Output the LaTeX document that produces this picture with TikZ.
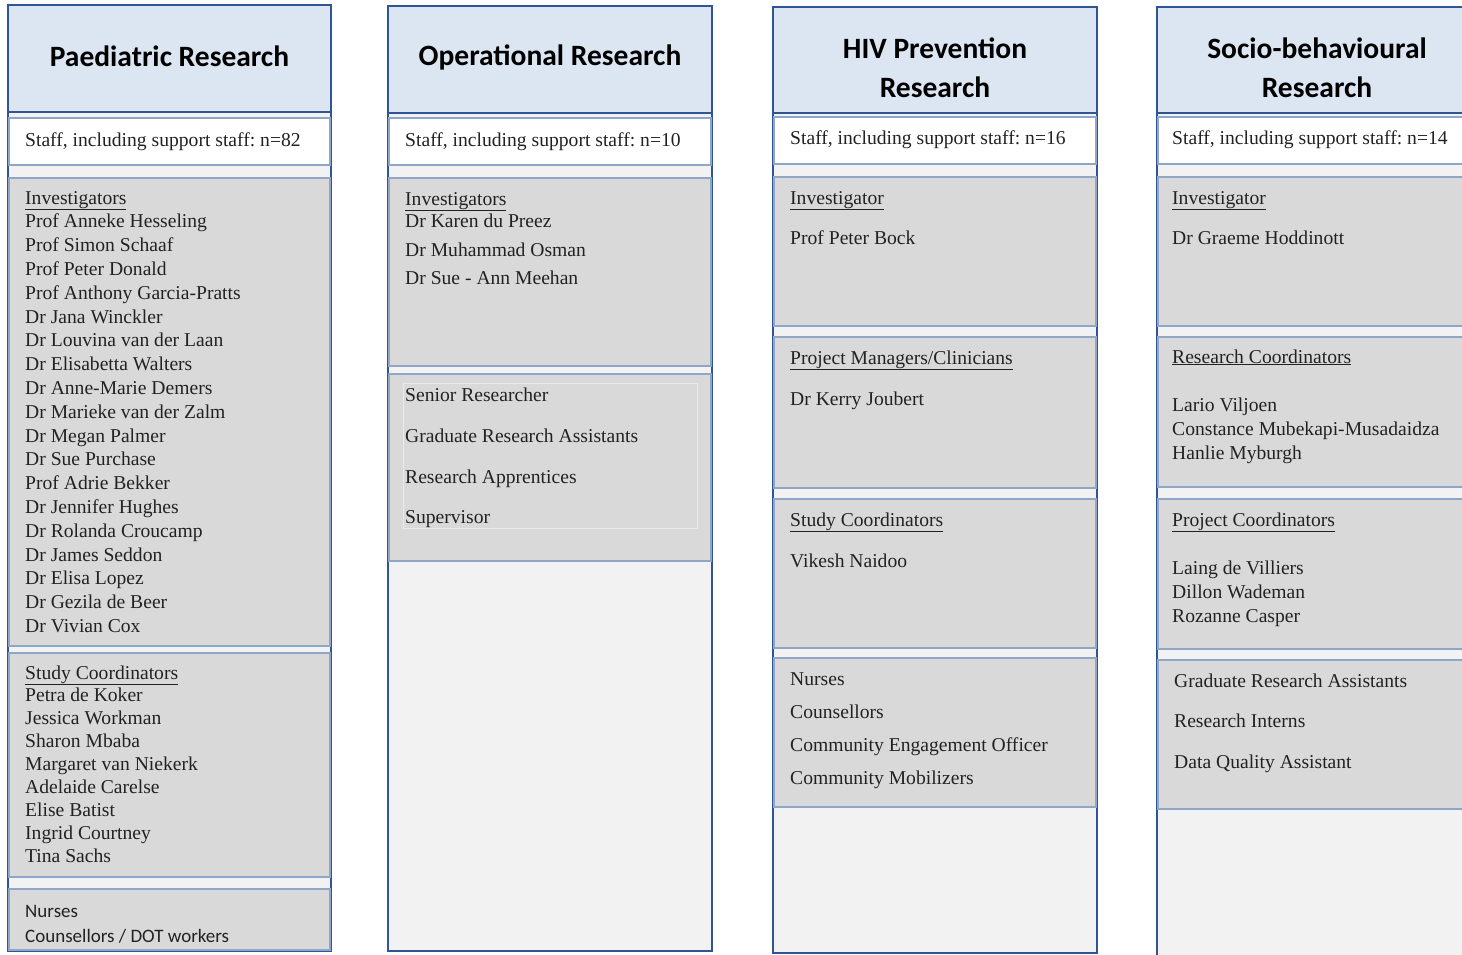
\documentclass[tikz,border=0pt]{standalone}
\usepackage{fontspec}
\setmainfont{Liberation Serif}
\newfontfamily\hdfont{Carlito}
\frenchspacing
\definecolor{frameblue}{HTML}{2F5597}
\definecolor{hdfill}{HTML}{DCE6F2}
\definecolor{colfill}{HTML}{F2F2F2}
\definecolor{boxline}{HTML}{8FA6C6}
\definecolor{grayfill}{HTML}{D9D9D9}
\definecolor{txt}{HTML}{222222}
\newcommand\bx[6]{\node[#2, minimum width={(#5)-(#3)}, minimum height={(#6)-(#4)}, inner sep=0pt, outer sep=0pt] (#1) at ({((#3)+(#5))/2},{((#4)+(#6))/2}) {};}
\tikzset{
  colframe/.style={draw=frameblue, line width=2.4pt, fill=colfill},
  hdbox/.style={draw=frameblue, line width=2.8pt, fill=hdfill},
  whitebox/.style={draw=boxline, line width=1.8pt, fill=white},
  graybox/.style={draw=boxline, line width=1.8pt, fill=grayfill},
  innerbox/.style={draw=colfill!70!grayfill, line width=0.8pt, fill=grayfill},
  t/.style={anchor=base west, inner sep=0pt, text=txt, font=\fontsize{19.6}{22}\selectfont\frenchspacing},
  ts/.style={anchor=base west, inner sep=0pt, text=txt, font=\hdfont\fontsize{19}{22}\selectfont},
  hd/.style={align=center, inner sep=0pt, text=black, font=\hdfont\bfseries\fontsize{29.5}{39}\selectfont},
}
\begin{document}
\begin{tikzpicture}[x=1pt,y=-1pt]
\useasboundingbox (0,0) rectangle (1462,954);
\clip (0,0) rectangle (1462,954);
% ---------- column 1
\bx{f1}{colframe}{8}{5}{331}{951}
\bx{h1}{hdbox}{8}{5}{331}{112}
\bx{w1}{whitebox}{9}{118}{330}{165}
\bx{g11}{graybox}{9}{178}{330}{646}
\bx{g12}{graybox}{9}{653}{330}{877}
\bx{g13}{graybox}{9}{889}{330}{950}
\node[hd] (h1t) at (169.5,56) {Paediatric Research};
\node[t] (s1) at (25,146) {Staff, including support staff: n=82};
\node[t] (c1a) at (25,204) {\underline{Investigators}};
\foreach \n [count=\i] in {Prof Anneke Hesseling, Prof Simon Schaaf, Prof Peter Donald, Prof Anthony Garcia-Pratts, Dr Jana Winckler, Dr Louvina van der Laan, Dr Elisabetta Walters, Dr Anne-Marie Demers, Dr Marieke van der Zalm, Dr Megan Palmer, Dr Sue Purchase, Prof Adrie Bekker, Dr Jennifer Hughes, Dr Rolanda Croucamp, Dr James Seddon, Dr Elisa Lopez, Dr Gezila de Beer, Dr Vivian Cox}
  \node[t] (c1a\i) at (25,{204+23.8*\i}) {\n};
\node[t] (c1b) at (25,679) {\underline{Study Coordinators}};
\foreach \n [count=\i] in {Petra de Koker, Jessica Workman, Sharon Mbaba, Margaret van Niekerk, Adelaide Carelse, Elise Batist, Ingrid Courtney, Tina Sachs}
  \node[t] (c1b\i) at (25,{679+22.9*\i}) {\n};
\node[ts] (c1c1) at (25,917) {Nurses};
\node[ts] (c1c2) at (25,942) {Counsellors / DOT workers};
% ---------- column 2
\bx{f2}{colframe}{388}{6}{712}{951}
\bx{h2}{hdbox}{388}{6}{712}{113}
\bx{w2}{whitebox}{389}{118}{711}{165}
\bx{g21}{graybox}{389}{178}{711}{366}
\bx{g22}{graybox}{389}{374}{711}{561}
\bx{i22}{innerbox}{403}{383}{697}{528}
\node[hd] (h2t) at (550,57) {Operational Research};
\node[t] (s2) at (405,146) {Staff, including support staff: n=10};
\node[t] (c2a) at (405,205) {\underline{Investigators}};
\node[t] (c2a1) at (405,227) {Dr Karen du Preez};
\node[t] (c2a2) at (405,256) {Dr Muhammad Osman};
\node[t] (c2a3) at (405,284) {Dr Sue - Ann Meehan};
\node[t] (c2b1) at (405,401) {Senior Researcher};
\node[t] (c2b2) at (405,442) {Graduate Research Assistants};
\node[t] (c2b3) at (405,483) {Research Apprentices};
\node[t] (c2b4) at (405,523) {Supervisor};
% ---------- column 3
\bx{f3}{colframe}{773}{7}{1097}{953}
\bx{h3}{hdbox}{773}{7}{1097}{113}
\bx{w3}{whitebox}{774}{117}{1096}{164}
\bx{g31}{graybox}{774}{177}{1096}{326}
\bx{g32}{graybox}{774}{337}{1096}{488}
\bx{g33}{graybox}{774}{499}{1096}{648}
\bx{g34}{graybox}{774}{658}{1096}{807}
\node[hd] (h3t) at (935,67.5) {HIV Prevention\\Research};
\node[t] (s3) at (790,144) {Staff, including support staff: n=16};
\node[t] (c3a) at (790,204) {\underline{Investigator}};
\node[t] (c3a1) at (790,244) {Prof Peter Bock};
\node[t] (c3b) at (790,364) {\underline{Project Managers/Clinicians}};
\node[t] (c3b1) at (790,405) {Dr Kerry Joubert};
\node[t] (c3c) at (790,526) {\underline{Study Coordinators}};
\node[t] (c3c1) at (790,567) {Vikesh Naidoo};
\node[t] (c3d1) at (790,685) {Nurses};
\node[t] (c3d2) at (790,718) {Counsellors};
\node[t] (c3d3) at (790,751) {Community Engagement Officer};
\node[t] (c3d4) at (790,784) {Community Mobilizers};
% ---------- column 4
\bx{f4}{colframe}{1157}{7}{1478}{960}
\bx{h4}{hdbox}{1157}{7}{1478}{113}
\bx{w4}{whitebox}{1158}{117}{1477}{164}
\bx{g41}{graybox}{1158}{177}{1477}{326}
\bx{g42}{graybox}{1158}{337}{1477}{487}
\bx{g43}{graybox}{1158}{499}{1477}{649}
\bx{g44}{graybox}{1158}{660}{1477}{809}
\node[hd] (h4t) at (1317,67.5) {Socio-behavioural\\Research};
\node[t] (s4) at (1172,144) {Staff, including support staff: n=14};
\node[t] (c4a) at (1172,204) {\underline{Investigator}};
\node[t] (c4a1) at (1172,244) {Dr Graeme Hoddinott};
\node[t] (c4b) at (1172,363) {\underline{Research Coordinators}};
\node[t] (c4b1) at (1172,411) {Lario Viljoen};
\node[t] (c4b2) at (1172,435) {Constance Mubekapi-Musadaidza};
\node[t] (c4b3) at (1172,459) {Hanlie Myburgh};
\node[t] (c4c) at (1172,526) {\underline{Project Coordinators}};
\node[t] (c4c1) at (1172,574) {Laing de Villiers};
\node[t] (c4c2) at (1172,598) {Dillon Wademan};
\node[t] (c4c3) at (1172,622) {Rozanne Casper};
\node[t] (c4d1) at (1174,687) {Graduate Research Assistants};
\node[t] (c4d2) at (1174,727) {Research Interns};
\node[t] (c4d3) at (1174,768) {Data Quality Assistant};
\end{tikzpicture}
\end{document}
